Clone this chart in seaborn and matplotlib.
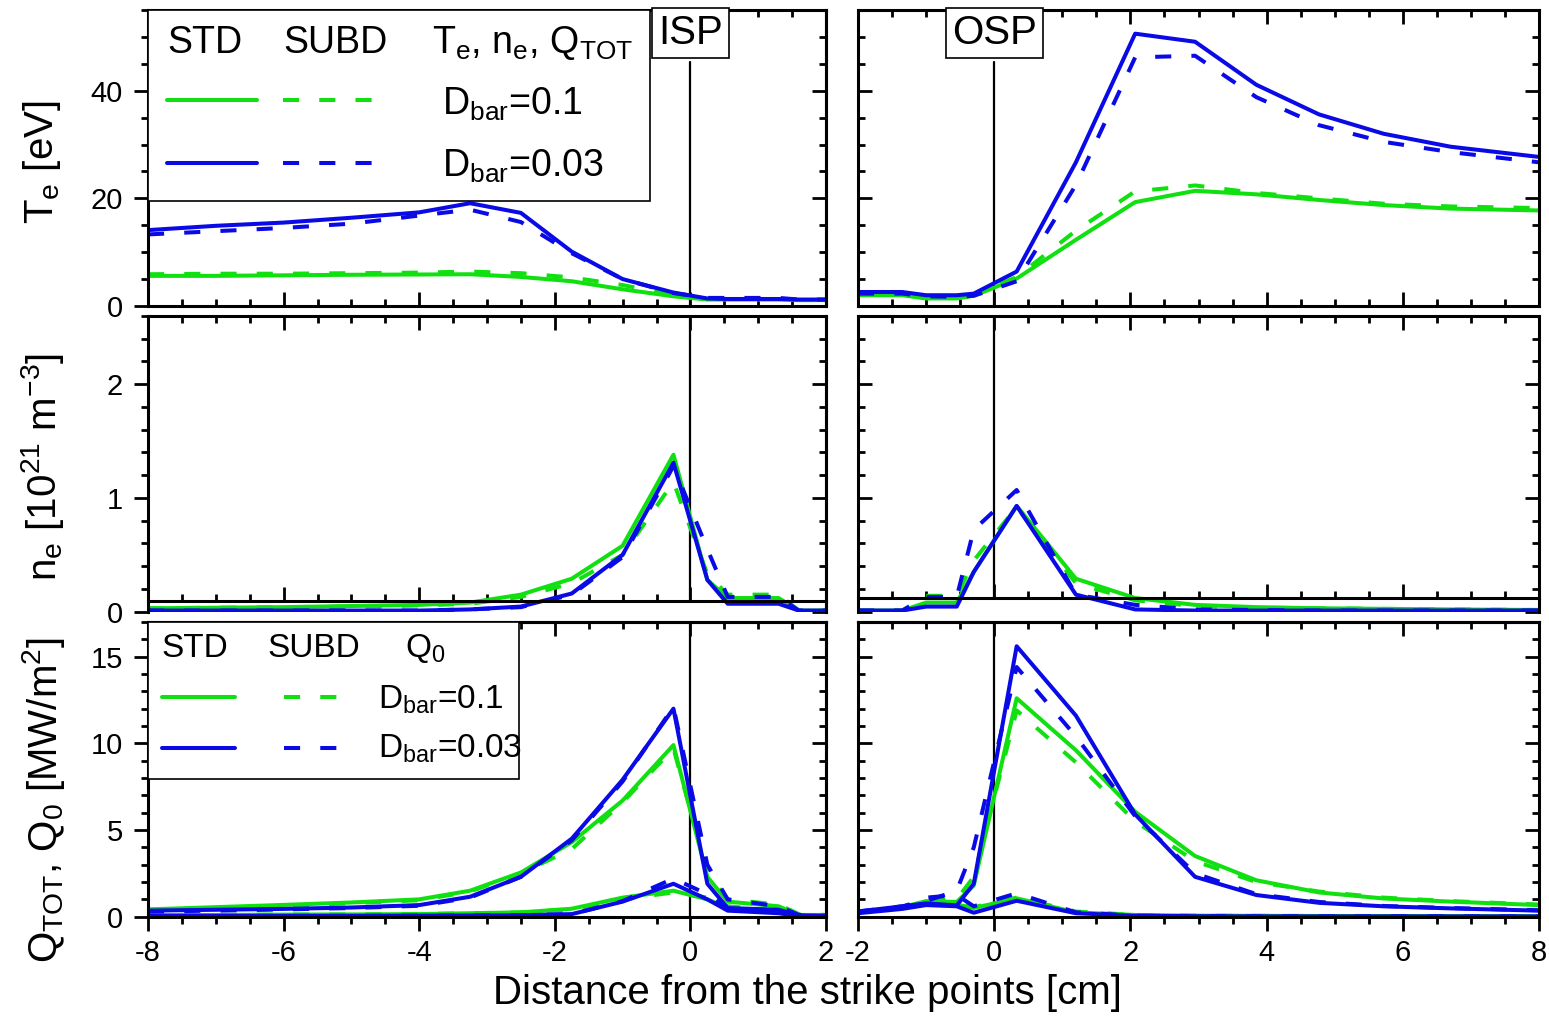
import numpy as np
import pandas as pd
import matplotlib
matplotlib.use('Agg')
import matplotlib.pyplot as plt
import seaborn as sns
from matplotlib.ticker import MultipleLocator
from matplotlib.lines import Line2D
from matplotlib.patches import Rectangle
import matplotlib.transforms as mtransforms

sns.set_style('ticks')
plt.rcParams['font.family'] = ['Liberation Sans', 'DejaVu Sans']
plt.rcParams['mathtext.fontset'] = 'custom'
plt.rcParams['mathtext.rm'] = 'Liberation Sans'
plt.rcParams['mathtext.it'] = 'Liberation Sans:italic'
plt.rcParams['mathtext.bf'] = 'Liberation Sans:bold'
plt.rcParams['axes.unicode_minus'] = False
for k in ['text.color', 'axes.labelcolor', 'xtick.color', 'ytick.color',
          'xtick.labelcolor', 'ytick.labelcolor', 'axes.edgecolor']:
    plt.rcParams[k] = 'black'

# ---------------- data ----------------
# inner strike point (ISP) side, x in cm
x_isp = [-8, -7, -6, -5, -4, -3.25, -2.5, -1.75, -1.0, -0.25, 0.25, 0.55, 1.3, 1.6, 2.0]
# outer strike point (OSP) side
x_osp = [-2, -1.35, -1.0, -0.55, -0.3, 0.33, 1.2, 2.07, 2.95, 3.85, 4.77, 5.72, 6.7, 8.0]

# Te [eV]
te_isp_std_01 = [5.6, 5.6, 5.7, 5.8, 5.85, 5.9, 5.4, 4.6, 3.1, 1.8, 1.2, 1.2, 1.2, 1.1, 1.1]
te_isp_subd_01 = [5.9, 6.0, 6.0, 6.1, 6.2, 6.4, 6.1, 5.3, 3.9, 2.0, 1.3, 1.3, 1.3, 1.1, 1.1]
te_isp_std_003 = [14.1, 14.9, 15.5, 16.4, 17.4, 19.1, 17.3, 10.1, 5.0, 2.5, 1.4, 1.3, 1.3, 1.2, 1.2]
te_isp_subd_003 = [13.3, 13.9, 14.5, 15.3, 16.8, 17.9, 15.6, 9.8, 5.0, 2.4, 1.5, 1.5, 1.5, 1.2, 1.2]

te_osp_std_01 = [2.0, 2.0, 1.4, 1.4, 1.9, 5.1, 12.3, 19.3, 21.4, 20.75, 19.7, 18.75, 18.1, 17.75]
te_osp_subd_01 = [2.1, 2.1, 1.5, 1.5, 2.0, 5.4, 14.0, 21.3, 22.4, 21.0, 20.0, 19.0, 18.5, 18.2]
te_osp_std_003 = [2.6, 2.6, 2.0, 2.0, 2.3, 6.4, 26.7, 50.6, 49.1, 41.1, 35.6, 32.0, 29.6, 27.7]
te_osp_subd_003 = [2.3, 2.3, 1.8, 1.7, 1.9, 4.6, 22.5, 46.2, 46.5, 38.8, 33.6, 30.5, 28.6, 26.7]

# ne [1e21 m^-3]
ne_isp_std_01 = [0.03, 0.035, 0.04, 0.05, 0.06, 0.08, 0.15, 0.29, 0.58, 1.38, 0.28, 0.12, 0.12, 0.01, 0.01]
ne_isp_subd_01 = [0.03, 0.035, 0.04, 0.045, 0.055, 0.07, 0.13, 0.25, 0.5, 1.14, 0.33, 0.15, 0.15, 0.01, 0.01]
ne_isp_std_003 = [0.01, 0.01, 0.01, 0.01, 0.01, 0.02, 0.045, 0.16, 0.5, 1.31, 0.28, 0.07, 0.07, 0.01, 0.01]
ne_isp_subd_003 = [0.01, 0.01, 0.01, 0.01, 0.01, 0.02, 0.04, 0.15, 0.48, 1.28, 0.55, 0.13, 0.13, 0.01, 0.01]

ne_osp_std_01 = [0.01, 0.01, 0.08, 0.08, 0.35, 0.93, 0.29, 0.12, 0.06, 0.04, 0.03, 0.025, 0.02, 0.015]
ne_osp_subd_01 = [0.01, 0.01, 0.14, 0.14, 0.45, 0.92, 0.25, 0.10, 0.05, 0.035, 0.03, 0.025, 0.02, 0.015]
ne_osp_std_003 = [0.01, 0.01, 0.045, 0.045, 0.35, 0.93, 0.15, 0.02, 0.01, 0.01, 0.01, 0.01, 0.01, 0.01]
ne_osp_subd_003 = [0.01, 0.01, 0.13, 0.13, 0.72, 1.07, 0.15, 0.06, 0.02, 0.015, 0.01, 0.01, 0.01, 0.01]

# Q_TOT [MW/m2]
qt_isp_std_01 = [0.42, 0.55, 0.68, 0.82, 1.0, 1.5, 2.55, 4.3, 6.7, 9.9, 2.3, 0.87, 0.6, 0.1, 0.1]
qt_isp_subd_01 = [0.4, 0.5, 0.62, 0.78, 0.95, 1.45, 2.5, 3.9, 6.6, 9.7, 2.6, 1.0, 0.7, 0.15, 0.1]
qt_isp_std_003 = [0.35, 0.4, 0.45, 0.53, 0.67, 1.15, 2.3, 4.5, 7.9, 12.0, 1.9, 0.5, 0.4, 0.08, 0.05]
qt_isp_subd_003 = [0.3, 0.35, 0.42, 0.5, 0.63, 1.1, 2.3, 4.4, 7.8, 12.1, 3.0, 1.0, 0.6, 0.1, 0.05]

qt_osp_std_01 = [0.25, 0.55, 0.9, 0.85, 1.8, 12.6, 9.6, 6.05, 3.5, 2.1, 1.4, 1.05, 0.87, 0.67]
qt_osp_subd_01 = [0.25, 0.55, 0.95, 1.0, 2.3, 11.9, 8.9, 5.5, 3.2, 2.0, 1.45, 1.1, 0.9, 0.7]
qt_osp_std_003 = [0.3, 0.6, 0.77, 0.65, 1.9, 15.6, 11.6, 5.9, 2.3, 1.25, 0.8, 0.6, 0.48, 0.35]
qt_osp_subd_003 = [0.3, 0.6, 0.9, 1.5, 4.0, 14.4, 10.4, 5.8, 2.5, 1.3, 0.85, 0.62, 0.5, 0.37]

# Q_0 [MW/m2]
q0_isp_std_01 = [0.1, 0.1, 0.12, 0.13, 0.15, 0.2, 0.25, 0.46, 1.1, 1.5, 1.0, 0.5, 0.3, 0.05, 0.05]
q0_isp_subd_01 = [0.1, 0.1, 0.12, 0.13, 0.15, 0.2, 0.25, 0.42, 1.0, 1.4, 1.1, 0.6, 0.35, 0.05, 0.05]
q0_isp_std_003 = [0.05, 0.05, 0.05, 0.05, 0.06, 0.07, 0.08, 0.15, 0.87, 1.9, 1.0, 0.35, 0.2, 0.03, 0.03]
q0_isp_subd_003 = [0.05, 0.05, 0.05, 0.05, 0.06, 0.07, 0.08, 0.15, 0.9, 2.2, 1.3, 0.45, 0.25, 0.03, 0.03]

q0_osp_std_01 = [0.25, 0.5, 0.8, 0.7, 0.5, 1.06, 0.25, 0.1, 0.06, 0.05, 0.04, 0.04, 0.03, 0.03]
q0_osp_subd_01 = [0.25, 0.5, 0.85, 0.8, 0.55, 1.1, 0.3, 0.1, 0.06, 0.05, 0.04, 0.04, 0.03, 0.03]
q0_osp_std_003 = [0.2, 0.45, 0.67, 0.6, 0.23, 0.92, 0.2, 0.05, 0.03, 0.02, 0.02, 0.02, 0.02, 0.02]
q0_osp_subd_003 = [0.25, 0.55, 1.1, 1.25, 0.6, 1.35, 0.25, 0.06, 0.03, 0.02, 0.02, 0.02, 0.02, 0.02]

x_ticks_isp = [-8, -6, -4, -2, 0, 2]
x_ticks_osp = [-2, 0, 2, 4, 6, 8]

# ---------------- style ----------------
GREEN = '#10e010'
BLUE = '#0a0ae6'
LW = 2.9
DASH = (0, (4, 5))
SPW = 2.2
W, H = 1549, 1016

fig = plt.figure(figsize=(W / 100, H / 100), dpi=100)


def add_ax(x0, x1, ytop, ybot):
    return fig.add_axes([x0 / W, 1 - ybot / H, (x1 - x0) / W, (ybot - ytop) / H])


def draw(ax, x, y, color, dashed):
    sns.lineplot(x=x, y=y, ax=ax, color=color, lw=LW, sort=False, estimator=None,
                 linestyle=DASH if dashed else '-', legend=False, zorder=2)


def setup(ax, xlim, ylim, ymaj, ymin, left_col, bottom_row, xticks):
    ax.set_xlim(*xlim)
    ax.set_ylim(*ylim)
    ax.set_xlabel('')
    ax.set_ylabel('')
    ax.set_xticks(xticks)
    ax.xaxis.set_minor_locator(MultipleLocator(0.5))
    ax.yaxis.set_major_locator(MultipleLocator(ymaj))
    ax.yaxis.set_minor_locator(MultipleLocator(ymin))
    for s in ax.spines.values():
        s.set_linewidth(SPW)
        s.set_color('k')
        s.set_visible(True)
    ax.tick_params(which='major', length=10, width=2, labelsize=21, color='k', labelcolor='k')
    ax.tick_params(which='minor', length=5, width=2, color='k')
    # x axis
    if bottom_row:
        ax.tick_params(axis='x', which='both', bottom=True, top=False, direction='out',
                       labelbottom=True, pad=6)
        sec = ax.secondary_xaxis('top')
        sec.set_xticks(xticks)
        sec.xaxis.set_minor_locator(MultipleLocator(0.5))
        sec.tick_params(axis='x', which='both', direction='in', labeltop=False, width=2, color='k')
        sec.tick_params(which='major', length=10)
        sec.tick_params(which='minor', length=5)
        sec.spines['top'].set_linewidth(SPW)
        sec.spines['top'].set_color('k')
    else:
        ax.tick_params(axis='x', which='both', bottom=True, top=True, direction='in',
                       labelbottom=False)
    # y axis
    if left_col:
        ax.tick_params(axis='y', which='both', left=True, right=False, direction='out',
                       labelleft=True, pad=8)
        sec = ax.secondary_yaxis('right')
        sec.yaxis.set_major_locator(MultipleLocator(ymaj))
        sec.yaxis.set_minor_locator(MultipleLocator(ymin))
        sec.tick_params(axis='y', which='both', direction='in', labelright=False, width=2, color='k')
        sec.tick_params(which='major', length=10)
        sec.tick_params(which='minor', length=5)
        sec.spines['right'].set_linewidth(SPW)
        sec.spines['right'].set_color('k')
    else:
        ax.tick_params(axis='y', which='both', left=True, right=True, direction='in',
                       labelleft=False)


cols = [(148, 826), (858, 1539)]
rows = [(10, 306), (316, 611.7), (622, 916.7)]
xlims = [(-8, 2), (-2, 8)]
xticks = [x_ticks_isp, x_ticks_osp]
ylims = [(0, 55), (0, 2.6), (0, 17)]
ymajs = [20, 1, 5]
ymins = [5, 0.2, 1]

series = {
    (0, 0): [te_isp_std_01, te_isp_subd_01, te_isp_std_003, te_isp_subd_003],
    (0, 1): [te_osp_std_01, te_osp_subd_01, te_osp_std_003, te_osp_subd_003],
    (1, 0): [ne_isp_std_01, ne_isp_subd_01, ne_isp_std_003, ne_isp_subd_003],
    (1, 1): [ne_osp_std_01, ne_osp_subd_01, ne_osp_std_003, ne_osp_subd_003],
    (2, 0): [qt_isp_std_01, qt_isp_subd_01, qt_isp_std_003, qt_isp_subd_003,
             q0_isp_std_01, q0_isp_subd_01, q0_isp_std_003, q0_isp_subd_003],
    (2, 1): [qt_osp_std_01, qt_osp_subd_01, qt_osp_std_003, qt_osp_subd_003,
             q0_osp_std_01, q0_osp_subd_01, q0_osp_std_003, q0_osp_subd_003],
}
styles = [(GREEN, False), (GREEN, True), (BLUE, False), (BLUE, True)]
spine_pos = [0.09, 0.123]

axes = {}
for r in range(3):
    for c in range(2):
        ax = add_ax(cols[c][0], cols[c][1], rows[r][0], rows[r][1])
        axes[(r, c)] = ax
        xs = x_isp if c == 0 else x_osp
        data = series[(r, c)]
        order = [0, 4, 1, 5, 2, 6, 3, 7] if len(data) == 8 else [0, 1, 2, 3]
        for i in order:
            colr, dashed = styles[i % 4]
            draw(ax, xs, data[i], colr, dashed)
        setup(ax, xlims[c], ylims[r], ymajs[r], ymins[r], c == 0, r == 2, xticks[c])
        if r == 1:
            ax.spines['bottom'].set_position(('data', spine_pos[c]))
            ax.axvline(0, ymin=spine_pos[c] / 2.6, ymax=1, color='k', lw=1.6, zorder=1)
        elif r == 2:
            ax.axvline(0, color='k', lw=1.6, zorder=1)
        else:
            ax.axvline(0, ymin=0, ymax=0.824, color='k', lw=1.6, zorder=1)
            tr = mtransforms.blended_transform_factory(ax.transData, ax.transAxes)
            ax.text(0.0, 0.922, 'ISP' if c == 0 else 'OSP', transform=tr, ha='center',
                    va='center', fontsize=29, zorder=10, clip_on=False,
                    bbox=dict(boxstyle='square,pad=0.15', fc='white', ec='k', lw=1.2))

# ---- legend top-left ----
ax = axes[(0, 0)]
ax.add_patch(Rectangle((0, 0.355), 0.740, 0.645, transform=ax.transAxes, fc='white',
                       ec='k', lw=1.2, zorder=5, clip_on=False))
fs = 27
ax.text(0.028, 0.855, 'STD', transform=ax.transAxes, fontsize=fs, zorder=6)
ax.text(0.199, 0.855, 'SUBD', transform=ax.transAxes, fontsize=fs, zorder=6)
ax.text(0.419, 0.855, r'T$_{\rm e}$, n$_{\rm e}$, Q$_{\rm TOT}$', transform=ax.transAxes,
        fontsize=fs, zorder=6)
for yl, col in [(0.696, GREEN), (0.483, BLUE)]:
    ax.add_line(Line2D([0.028, 0.161], [yl, yl], transform=ax.transAxes, color=col, lw=LW, zorder=6))
    ax.add_line(Line2D([0.199, 0.347], [yl, yl], transform=ax.transAxes, color=col, lw=LW,
                       ls=DASH, zorder=6))
ax.text(0.434, 0.645, r'D$_{\rm bar}$=0.1', transform=ax.transAxes, fontsize=fs, zorder=6)
ax.text(0.434, 0.436, r'D$_{\rm bar}$=0.03', transform=ax.transAxes, fontsize=fs, zorder=6)

# ---- legend bottom-left ----
ax = axes[(2, 0)]
ax.add_patch(Rectangle((0, 0.467), 0.547, 0.533, transform=ax.transAxes, fc='white',
                       ec='k', lw=1.2, zorder=5, clip_on=False))
fs2 = 24
ax.text(0.02, 0.882, 'STD', transform=ax.transAxes, fontsize=fs2, zorder=6)
ax.text(0.176, 0.882, 'SUBD', transform=ax.transAxes, fontsize=fs2, zorder=6)
ax.text(0.379, 0.882, r'Q$_{\rm 0}$', transform=ax.transAxes, fontsize=fs2, zorder=6)
for yl, col in [(0.745, GREEN), (0.573, BLUE)]:
    ax.add_line(Line2D([0.02, 0.128], [yl, yl], transform=ax.transAxes, color=col, lw=LW, zorder=6))
    ax.add_line(Line2D([0.2, 0.279], [yl, yl], transform=ax.transAxes, color=col, lw=LW,
                       ls=DASH, zorder=6))
ax.text(0.339, 0.705, r'D$_{\rm bar}$=0.1', transform=ax.transAxes, fontsize=fs2, zorder=6)
ax.text(0.339, 0.539, r'D$_{\rm bar}$=0.03', transform=ax.transAxes, fontsize=fs2, zorder=6)

# ---- axis labels ----
fig.text(807 / W, 1 - 993 / H, 'Distance from the strike points [cm]', ha='center',
         va='center', fontsize=29)
fig.text(42 / W, 1 - 162 / H, r'T$_{\rm e}$ [eV]', rotation=90, ha='center', va='center',
         fontsize=29)
fig.text(42 / W, 1 - 467 / H, r'n$_{\rm e}$ [10$^{21}$ m$^{-3}$]', rotation=90, ha='center',
         va='center', fontsize=29)
fig.text(44 / W, 1 - 800 / H, r'Q$_{\rm TOT}$, Q$_{\rm 0}$ [MW/m$^{2}$]', rotation=90,
         ha='center', va='center', fontsize=29)

fig.savefig('out.png', dpi=100, facecolor='white')
